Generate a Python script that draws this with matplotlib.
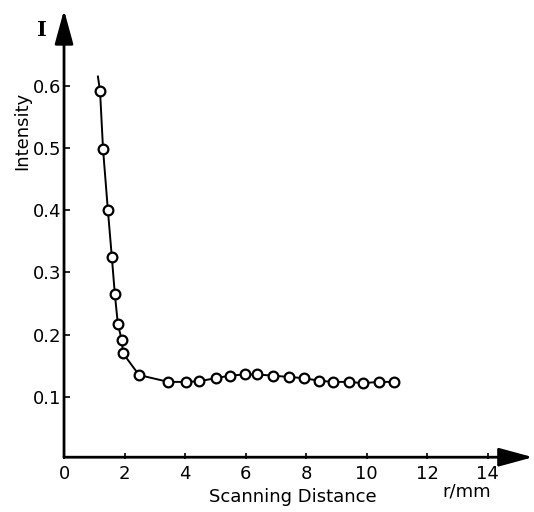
import numpy as np
import matplotlib.pyplot as plt

# measured points (r in mm, relative intensity)
r_mm = [1.19, 1.29, 1.45, 1.58, 1.68, 1.78, 1.91, 1.95, 2.48, 3.45, 4.03, 4.46,
        5.02, 5.48, 5.97, 6.38, 6.90, 7.43, 7.92, 8.42, 8.88, 9.41, 9.90, 10.40, 10.92]
intensity = [0.592, 0.498, 0.400, 0.325, 0.265, 0.217, 0.191, 0.170, 0.135, 0.124,
             0.124, 0.125, 0.130, 0.134, 0.136, 0.136, 0.134, 0.132, 0.130, 0.126,
             0.124, 0.124, 0.122, 0.124, 0.124]
# the drawn curve starts a little above the first point
curve_start = (1.12, 0.615)

x_ticks = [0, 2, 4, 6, 8, 10, 12, 14]
y_ticks = [0.1, 0.2, 0.3, 0.4, 0.5, 0.6]

plt.rcParams['font.family'] = ['DejaVu Sans']

fig = plt.figure(figsize=(5.34, 5.12), dpi=100)
ax = fig.add_axes([0.1199, 0.1035, 0.878, 0.877])
ax.set_xlim(0, 15.5)
ax.set_ylim(0, 0.722)

for s in ax.spines.values():
    s.set_visible(False)

# axes as arrows
arrow = dict(arrowstyle='-|>,head_length=1.1,head_width=0.3', lw=2,
             color='black', mutation_scale=19, shrinkA=0, shrinkB=0)
ax.annotate('', xy=(1, 0.004), xytext=(0, 0.004), xycoords='axes fraction',
            arrowprops=arrow)
ax.annotate('', xy=(0, 1), xytext=(0, 0.004), xycoords='axes fraction',
            arrowprops=arrow)

# curve and markers
ax.plot([curve_start[0]] + r_mm, [curve_start[1]] + intensity, color='black', lw=1.4,
        zorder=2)
ax.plot(r_mm, intensity, linestyle='none', marker='o', ms=7, mfc='white',
        mec='black', mew=1.6, zorder=3)

ax.set_xticks(x_ticks)
ax.set_xticklabels([str(v) for v in x_ticks])
ax.set_yticks(y_ticks)
ax.set_yticklabels(['0.1', '0.2', '0.3', '0.4', '0.5', '0.6'])
ax.tick_params(axis='both', direction='in', length=4, width=1.2, labelsize=13, pad=4)
ax.tick_params(axis='y', pad=2)

fig.text(0.041, 0.745, 'Intensity', rotation=90, fontsize=13, ha='center', va='center')
fig.text(0.549, 0.029, 'Scanning Distance', fontsize=13, ha='center', va='center')
fig.text(0.874, 0.041, 'r/mm', fontsize=13, ha='center', va='center')
fig.text(0.079, 0.941, 'I', fontsize=15, family='DejaVu Serif', fontweight='bold',
         ha='center', va='center')

fig.savefig('out.png', dpi=100)
